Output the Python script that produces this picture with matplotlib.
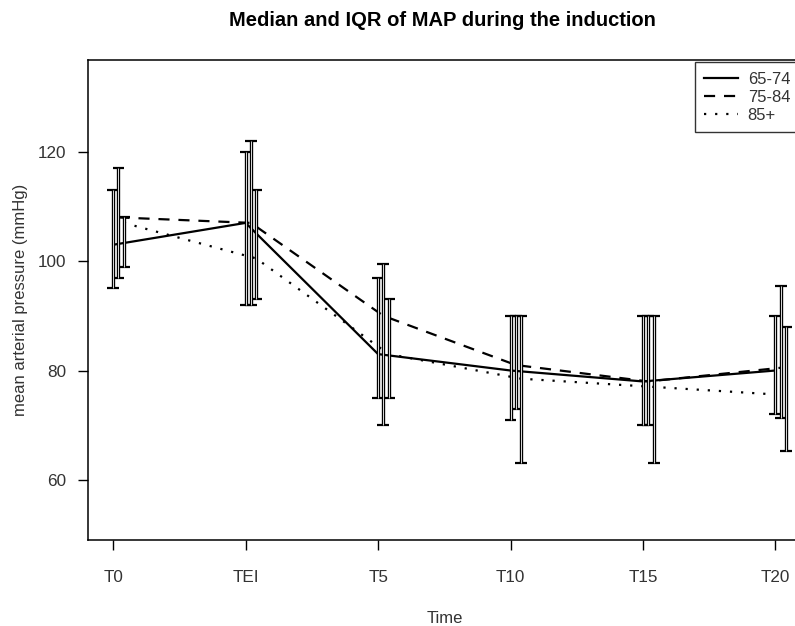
import numpy as np
import matplotlib
matplotlib.use("Agg")
import matplotlib.pyplot as plt

plt.rcParams['font.family'] = ['Liberation Sans', 'DejaVu Sans']

# data (median, Q1, Q3 per age group)
times = ['T0', 'TEI', 'T5', 'T10', 'T15', 'T20']
groups = ['65-74', '75-84', '85+']

med_6574 = [103, 107, 83, 80, 78, 80]
q1_6574 = [95, 92, 75, 71, 70, 72]
q3_6574 = [113, 120, 97, 90, 90, 90]

med_7584 = [108, 107, 90, 81, 78, 80.5]
q1_7584 = [97, 92, 70, 73, 70, 71.3]
q3_7584 = [117, 122, 99.5, 90, 90, 95.4]

med_85 = [107, 100.5, 83, 78.5, 77, 75.5]
q1_85 = [99, 93, 75, 63, 63, 65.2]
q3_85 = [108, 113, 93, 90, 90, 88]

meds = [med_6574, med_7584, med_85]
q1s = [q1_6574, q1_7584, q1_85]
q3s = [q3_6574, q3_7584, q3_85]
styles = ['-', (0, (5, 4)), (0, (1, 4))]
offsets = [0.0, 0.04, 0.08]

fig = plt.figure(figsize=(7.95, 6.26), dpi=100)
# plot region runs a bit past the right edge, like the cropped original
ax = fig.add_axes([0.1107, 0.1374, 0.898, 0.7668])

x = np.arange(len(times))
cap = 0.045
for m, lo, hi, ls, off in zip(meds, q1s, q3s, styles, offsets):
    xs = x + off
    ax.plot(xs, m, color='black', linestyle=ls, linewidth=1.6)
    ax.vlines(xs, lo, hi, color='black', linewidth=2.4, zorder=3)
    ax.vlines(xs, lo, hi, color='white', linewidth=0.6, zorder=4)
    ax.hlines(lo, xs - cap, xs + cap, color='black', linewidth=1.6, zorder=3)
    ax.hlines(hi, xs - cap, xs + cap, color='black', linewidth=1.6, zorder=3)

handles = [plt.Line2D([], [], color='black', linestyle=ls, linewidth=1.6) for ls in styles]
leg = ax.legend(handles, groups, loc='upper right', fontsize=12, frameon=True,
                fancybox=False, borderaxespad=0.15, handlelength=2.0,
                handletextpad=0.6, labelspacing=0.2, borderpad=0.55,
                labelcolor='#333333')
leg.get_frame().set_edgecolor('black')
leg.get_frame().set_linewidth(1.0)

ax.set_xlim(-0.19, 5.2)
ax.set_ylim(49, 136.8)
ax.set_xticks(x)
ax.set_xticklabels(times)
ax.set_yticks([60, 80, 100, 120])
ax.tick_params(axis='both', length=7.5, width=1, labelsize=12.3, labelcolor='#333333')
ax.tick_params(axis='x', pad=14)
ax.tick_params(axis='y', pad=8)
for s in ax.spines.values():
    s.set_linewidth(1.1)

ax.set_xlabel('Time', fontsize=12, color='#333333', labelpad=19)
ax.set_ylabel('mean arterial pressure (mmHg)', fontsize=12, color='#333333', labelpad=7)
fig.text(0.557, 0.968, 'Median and IQR of MAP during the induction',
         ha='center', va='center', fontsize=14.5, fontweight='bold')

fig.savefig('out.png', dpi=100)
